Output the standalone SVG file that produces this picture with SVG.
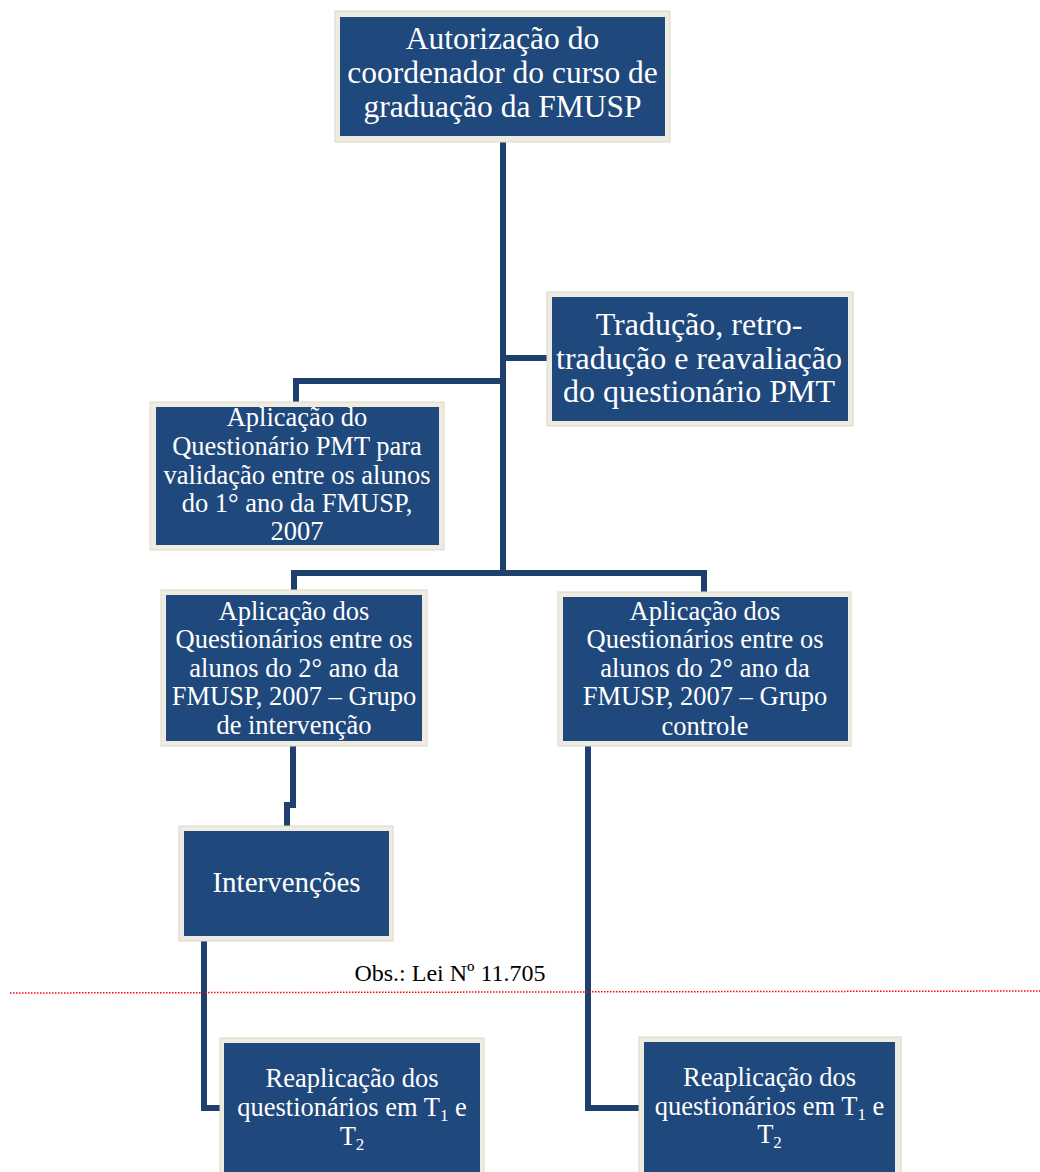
<svg xmlns="http://www.w3.org/2000/svg" width="1040" height="1172" viewBox="0 0 1040 1172">
<style>
.frame{fill:#EEEBE0;stroke:#DCD8CA;stroke-width:1}
.box{fill:#1F487C}
.t{font-family:"Liberation Serif","Times New Roman",serif;fill:#FFFFFF;text-anchor:middle}
.conn{fill:none;stroke:#1F3F6E;stroke-width:6;stroke-linejoin:miter}
.sub{font-size:17px}
</style>
<rect width="1040" height="1172" fill="#FFFFFF"/>
<g id="connectors">
<path class="conn" d="M503 142 V574"/>
<path class="conn" d="M503 358 H548"/>
<path class="conn" d="M503 381 H296 V403"/>
<path class="conn" d="M503 573 H294 V591"/>
<path class="conn" d="M503 573 H704 V593"/>
<path class="conn" d="M293 746 V805 H287 V827"/>
<path class="conn" d="M204 941 V1108 H221"/>
<path class="conn" d="M588 746 V1108 H640"/>
</g>
<g id="obs">
<line x1="10" y1="993" x2="1040" y2="991" stroke="#FF0000" stroke-width="1.5" stroke-dasharray="1.5 1.5"/>
<text x="450" y="981" font-family="Liberation Serif, Times New Roman, serif" font-size="24" fill="#000000" text-anchor="middle">Obs.: Lei Nº 11.705</text>
</g>
<g id="node-autorizacao">
<rect class="frame" x="335" y="11" width="335" height="131"/>
<rect class="box" x="340" y="17" width="325" height="119"/>
<text class="t" font-size="31.5"><tspan x="502.5" y="49">Autorização do</tspan><tspan x="502.5" y="83">coordenador do curso de</tspan><tspan x="502.5" y="117">graduação da FMUSP</tspan></text>
</g>
<g id="node-traducao">
<rect class="frame" x="547" y="292" width="306" height="134"/>
<rect class="box" x="552" y="297" width="296" height="124"/>
<text class="t" font-size="32"><tspan x="699" y="335">Tradução, retro-</tspan><tspan x="699" y="369">tradução e reavaliação</tspan><tspan x="699" y="402">do questionário PMT</tspan></text>
</g>
<g id="node-validacao">
<rect class="frame" x="150" y="402" width="294" height="148"/>
<rect class="box" x="156" y="407" width="283" height="138"/>
<text class="t" font-size="26.5"><tspan x="297" y="426">Aplicação do</tspan><tspan x="297" y="455">Questionário PMT para</tspan><tspan x="297" y="484">validação entre os alunos</tspan><tspan x="297" y="512">do 1° ano da FMUSP,</tspan><tspan x="297" y="540">2007</tspan></text>
</g>
<g id="node-intervencao-grupo">
<rect class="frame" x="161" y="590" width="266" height="156"/>
<rect class="box" x="166" y="595" width="256" height="146"/>
<text class="t" font-size="26.5"><tspan x="294" y="620">Aplicação dos</tspan><tspan x="294" y="648">Questionários entre os</tspan><tspan x="294" y="677">alunos do 2° ano da</tspan><tspan x="294" y="705">FMUSP, 2007 – Grupo</tspan><tspan x="294" y="734">de intervenção</tspan></text>
</g>
<g id="node-controle-grupo">
<rect class="frame" x="558" y="592" width="293" height="154"/>
<rect class="box" x="563" y="597" width="285" height="144"/>
<text class="t" font-size="26.5"><tspan x="705" y="620">Aplicação dos</tspan><tspan x="705" y="648">Questionários entre os</tspan><tspan x="705" y="677">alunos do 2° ano da</tspan><tspan x="705" y="705">FMUSP, 2007 – Grupo</tspan><tspan x="705" y="735">controle</tspan></text>
</g>
<g id="node-intervencoes">
<rect class="frame" x="179" y="826" width="214" height="115"/>
<rect class="box" x="184" y="831" width="205" height="105"/>
<text class="t" font-size="29" x="286.5" y="892">Intervenções</text>
</g>
<g id="node-reaplicacao-1">
<rect class="frame" x="220" y="1038" width="264" height="145"/>
<rect class="box" x="224" y="1043" width="256" height="140"/>
<text class="t" font-size="26.5"><tspan x="352" y="1087">Reaplicação dos</tspan><tspan x="352" y="1116">questionários em T<tspan class="sub" dy="5">1</tspan><tspan dy="-5"> e</tspan></tspan><tspan x="352" y="1145">T<tspan class="sub" dy="5">2</tspan></tspan></text>
</g>
<g id="node-reaplicacao-2">
<rect class="frame" x="639" y="1037" width="262" height="146"/>
<rect class="box" x="644" y="1042" width="251" height="141"/>
<text class="t" font-size="26.5"><tspan x="769.5" y="1086">Reaplicação dos</tspan><tspan x="769.5" y="1115">questionários em T<tspan class="sub" dy="5">1</tspan><tspan dy="-5"> e</tspan></tspan><tspan x="769.5" y="1143">T<tspan class="sub" dy="5">2</tspan></tspan></text>
</g>
</svg>
